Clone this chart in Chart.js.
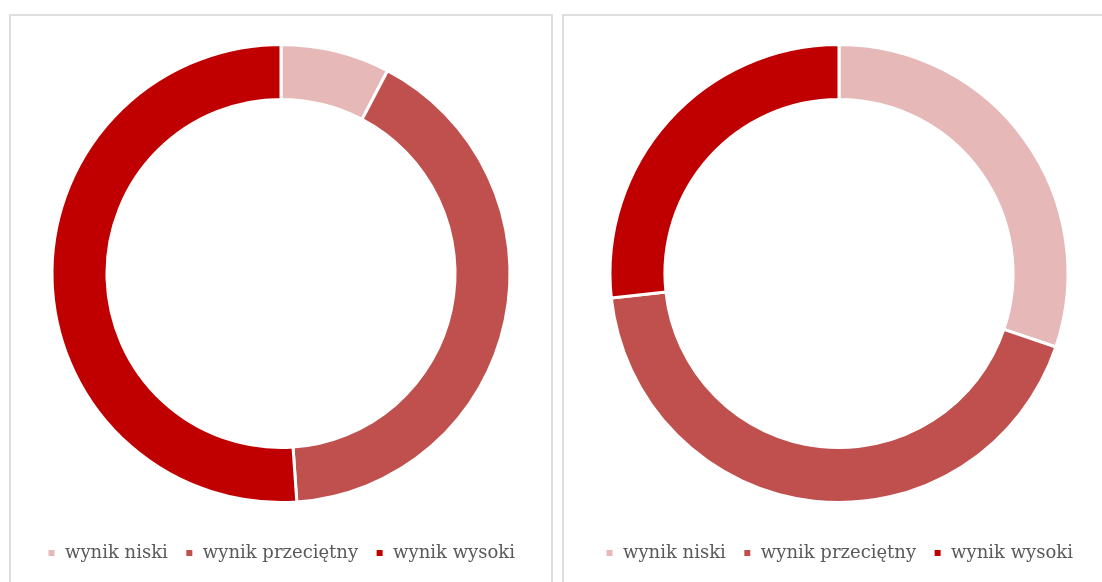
<!DOCTYPE html>
<html>
<head>
<meta charset="utf-8">
<script src="https://cdn.jsdelivr.net/npm/chart.js@4.4.1/dist/chart.umd.min.js"></script>
<style>
    html, body { margin: 0; padding: 0; background: #fff; overflow: hidden; }
    body { width: 1102px; height: 582px; position: relative; }
    .panel { position: absolute; top: 14px; height: 580px; border: 2px solid #dedede; box-sizing: border-box; }
    .panel canvas { position: absolute; left: 0; top: 0; }
</style>
</head>
<body>
<div class="panel" style="left:9px; width:544px;"><canvas id="chartLeft" width="540" height="566"></canvas></div>
<div class="panel" style="left:562px; width:554px;"><canvas id="chartRight" width="550" height="566"></canvas></div>
<script>
const categories = ['wynik niski', 'wynik przeciętny', 'wynik wysoki'];
const leftValues = [7.7, 41.2, 51.1];
const rightValues = [30.2, 43.1, 26.7];
const sliceColors = ['#E6B9B8', '#C0504D', '#C00000'];

function makeDonut(id, values) {
    const ctx = document.getElementById(id).getContext('2d');
    return new Chart(ctx, {
        type: 'doughnut',
        data: {
            labels: categories,
            datasets: [{
                data: values,
                backgroundColor: sliceColors,
                borderColor: '#ffffff',
                borderWidth: 3,
                radius: 229
            }]
        },
        options: {
            responsive: false,
            animation: false,
            cutout: '76%',
            layout: { padding: { top: 4, bottom: 10 } },
            plugins: {
                tooltip: { enabled: false },
                legend: {
                    position: 'bottom',
                    labels: {
                        color: '#595959',
                        font: { family: 'DejaVu Serif', size: 18 },
                        boxWidth: 9,
                        boxHeight: 9,
                        padding: 17
                    }
                }
            }
        }
    });
}

makeDonut('chartLeft', leftValues);
makeDonut('chartRight', rightValues);
</script>
</body>
</html>
